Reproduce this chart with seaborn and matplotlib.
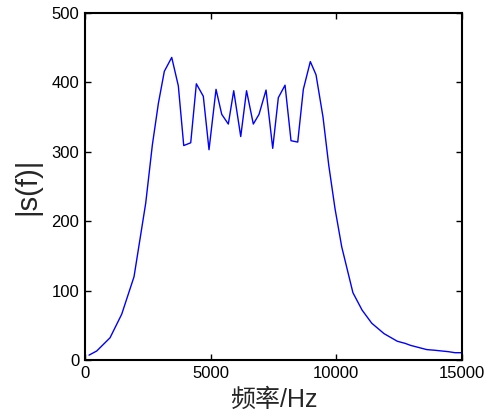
import matplotlib
matplotlib.use("Agg")
import matplotlib.pyplot as plt
import seaborn as sns
import pandas as pd

freq = [159, 466, 995, 1460, 1950, 2415, 2680, 2920, 3156, 3450, 3713, 3928,
        4206, 4430, 4707, 4934, 5213, 5440, 5702, 5917, 6196, 6427, 6697, 6924,
        7203, 7469, 7692, 7959, 8197, 8464, 8687, 8965, 9192, 9470, 9697, 9948,
        10215, 10660, 11023, 11409, 11898, 12427, 12734, 12961, 13597, 13927,
        14457, 14724, 15000]
mag = [7, 13, 32, 66, 120, 226, 310, 370, 416, 436, 395, 309,
       313, 398, 380, 303, 390, 354, 340, 388, 322, 388, 340, 354,
       389, 305, 378, 396, 316, 314, 390, 430, 411, 350, 281, 218,
       163, 97, 72, 53, 38, 27, 24, 21, 15, 14,
       12, 10.5, 10.5]

xticks = [0, 5000, 10000, 15000]
yticks = [0, 100, 200, 300, 400, 500]

sns.set_style("ticks")
plt.rcParams['font.family'] = ['Liberation Sans', 'Noto Sans CJK SC']
plt.rcParams['xtick.direction'] = 'in'
plt.rcParams['ytick.direction'] = 'in'

df = pd.DataFrame({"freq": freq, "mag": mag})

fig = plt.figure(figsize=(4.92, 4.17), dpi=100)
ax = fig.add_axes([0.1728, 0.1367, 0.7662, 0.8321])
sns.lineplot(data=df, x="freq", y="mag", ax=ax, color="#0000ff", linewidth=1.0)

ax.set_xlim(0, 15000)
ax.set_ylim(0, 500)
ax.set_xticks(xticks)
ax.set_yticks(yticks)
ax.set_xticklabels([str(t) for t in xticks])
ax.set_yticklabels([str(t) for t in yticks])
ax.tick_params(axis='both', which='both', direction='in', length=4, width=1,
               labelsize=12, top=True, right=True, colors='black', pad=4)
for s in ax.spines.values():
    s.set_visible(True)
    s.set_linewidth(1.5)
    s.set_color('black')

ax.set_xlabel("频率/Hz", fontsize=18, family=['Liberation Sans', 'Noto Sans CJK SC'], labelpad=5)
ax.set_ylabel("|s(f)|", fontsize=21, labelpad=7)

fig.savefig("out.png", dpi=100)
